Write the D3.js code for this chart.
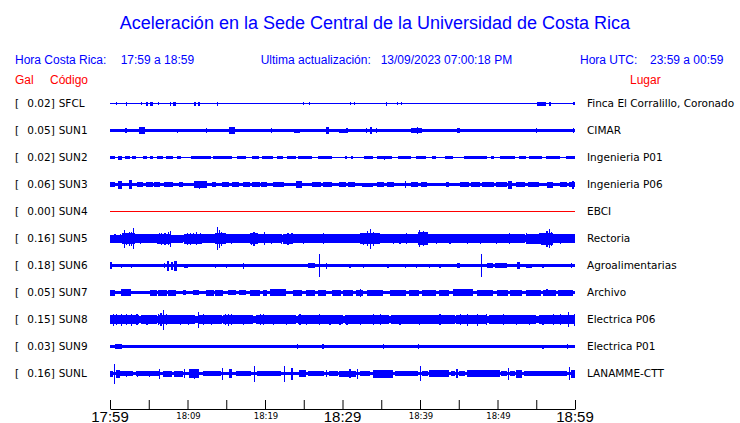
<!DOCTYPE html>
<html><head><meta charset="utf-8">
<script src="https://cdn.jsdelivr.net/npm/d3@7/dist/d3.min.js"></script>
<style>
html,body{margin:0;padding:0;background:#fff;}
svg{display:block;}
</style></head>
<body>
<svg id="chart" width="740" height="423"></svg>
<script>
// ---------------- DATA ----------------
const codes  = ["SFCL","SUN1","SUN2","SUN3","SUN4","SUN5","SUN6","SUN7","SUN8","SUN9","SUNL"];
const peakGal = ["0.02","0.05","0.02","0.06","0.00","0.16","0.18","0.05","0.15","0.03","0.16"];
const places = ["Finca El Corralillo, Coronado","CIMAR","Ingenieria P01","Ingenieria P06","EBCI","Rectoria",
                "Agroalimentarias","Archivo","Electrica P06","Electrica P01","LANAMME-CTT"];
// background (noise) half-amplitude of each trace, relative units
const baseAmp = [0.5,1.5,0.5,1.3,0.5,3.4,1.5,1.5,3.3,1.3,1.6];
// bursts: [start minute, end minute (after 17:59), half-amplitude]; start == end is a single spike
const burstsSFCL = [[0.8,0.8,1.5],[2.1,2.2,2],[4.0,4.0,1.5],[4.7,4.9,2],[5.2,5.5,2],[6.2,6.2,1.5],[7.7,7.9,2],[8.1,8.5,2],
  [10.9,11.1,2],[11.4,11.6,2],[13.8,13.8,2],[24.9,24.9,1.5],[25.7,25.7,1.5],[31.0,31.1,1.5],[31.5,31.5,1.5],[35.6,35.6,2],
  [37.0,37.0,1.5],[37.5,37.5,1.5],[55.1,56.2,2],[56.7,56.7,2],[59.8,59.8,1.5]];
const burstsSUN1 = [[1.9,2.2,2.5],[3.7,4.5,3.7],[8.6,8.6,2],[12.4,12.4,2.5],[15.4,16.1,3.5],[20.8,20.8,2.5],
  [23.8,24.5,2],[27.9,28.3,3.3],[29.6,30.5,2],[30.5,30.5,2.5],[33.0,33.0,2.5],[33.6,33.7,3.7],[34.3,34.3,2.5],
  [38.9,40.3,2.5],[39.6,39.8,3.7],[44.8,45.2,2.5],[55.0,55.0,2.5],[59.7,59.7,2.5]];
const burstsSUN2 = [[0,0.6,1.5],[1.0,1.5,2],[1.9,2.6,1.5],[2.9,3.4,1.5],[4.2,4.8,1.5],[5.1,5.5,1.5],[6.0,6.8,1.5],
  [7.2,8.1,1.5],[8.6,9.2,1.5],[10.5,13.0,1.5],[13.3,15.8,1.5],[16.4,17.6,1.5],[18.3,19.2,1.5],[19.6,21.0,1.5],
  [21.5,22.3,1.5],[22.8,24.0,1.5],[24.3,26.1,1.5],[26.8,28.7,1.5],[30.3,30.6,1.5],[31.1,31.3,1.5],[32.8,33.9,1.5],
  [34.4,36.4,1.5],[35.3,35.4,2],[37.1,38.9,1.5],[39.5,40.8,1.5],[41.6,42.1,1.5],[43.2,44.2,1.5],[45.7,48.6,1.5],
  [49.2,49.6,1.5],[50.3,52.2,1.5],[52.8,53.7,1.5],[54.1,55.8,1.5],[56.3,58.0,1.5],[58.9,60,1.5]];
const burstsSUN3 = [[0,0.6,2.5],[1.0,1.5,4],[2.5,2.9,4.5],[3.5,4.3,2.5],[4.6,5.5,2.5],[5.7,6.4,2.5],[7.0,8.1,2.5],
  [8.9,9.4,2.5],[10.9,12.5,3.2],[11.5,11.6,4],[13.1,13.7,2.5],[14.5,15.4,2.5],[15.7,16.7,2.5],[17.1,18.0,2.5],
  [18.3,19.3,2.5],[19.5,20.2,2.5],[21.0,22.5,2.5],[24.0,24.8,3.5],[26.1,27.2,2.5],[27.5,28.7,2.5],[29.6,30.4,2.5],
  [30.7,31.6,2.5],[32.5,33.9,2],[34.5,35.4,2.5],[35.7,36.7,2.5],[38.1,38.2,3.5],[38.9,39.8,2.5],[40.1,40.9,2.5],
  [43.4,43.8,2.5],[45.1,46.3,2.5],[46.6,47.8,2.5],[48.0,49.5,2.5],[49.8,51.2,2.5],[51.3,51.9,4],[52.4,53.6,2.5],
  [53.9,55.4,2.5],[56.4,57.1,3],[58.0,59.0,2.5],[59.2,60,2.5],[59.6,59.9,4]];
const burstsSUN4 = [];
const burstsSUN5 = [[0,1.5,4],[1.5,3.2,5.5],[3.2,6.0,4.3],[6.1,7.9,5],[7.9,9.4,4],[9.6,11.9,5],[11.9,13.5,4.3],
  [13.6,15.0,5.5],[15.0,18.0,4.3],[18.0,18.9,5.5],[19.0,22.0,4.3],[22.3,23.5,5],[23.5,28.7,4.3],[28.7,32.2,4.2],
  [32.2,34.8,5.5],[34.8,39.7,4.3],[39.7,41.0,6.5],[41.0,48.4,4.5],[48.4,53.5,4.5],[53.7,55.4,5],[55.6,57.1,6],
  [57.1,60,4.3],
  [0.58,0.58,4.8],[1.23,1.23,4.8],[1.78,1.78,9],[2.09,2.09,6],[2.43,2.43,7],[2.74,2.74,7],[2.94,2.94,10.8],
  [3.81,3.81,5],[4.45,4.45,4.8],[6.3,6.3,5.5],[6.6,6.6,6],[7.03,7.03,6],[7.46,7.46,6.5],[7.77,7.77,8],
  [9.9,9.9,6],[10.26,10.26,6],[10.7,10.7,5.5],[11.1,11.1,6.5],[11.55,11.55,5.5],[13.78,13.78,11.7],[14.04,14.04,9],
  [14.35,14.35,7],[14.65,14.65,5.5],[15.6,15.6,5],[18.2,18.2,6],[18.5,18.5,7],[18.9,18.9,5.5],[19.9,19.9,6.5],
  [20.8,20.8,5],[22.1,22.1,5],[22.9,22.9,6],[23.4,23.4,5.5],[24.9,24.9,5],[27.5,27.5,5.5],[30.5,30.5,4.8],
  [31.3,31.3,4.8],[32.6,32.6,6],[33.1,33.1,7.5],[33.5,33.5,10],[33.9,33.9,7],[34.3,34.3,5.5],[36.5,36.5,5],
  [37.35,37.35,5],[38.2,38.2,5.5],[39.9,39.9,8.5],[40.4,40.4,7.5],[40.7,40.7,6.5],[42.1,42.1,5],[43.8,43.8,5],
  [46.0,46.0,5],[47.7,47.7,5],[49.8,49.8,5],[51.5,51.5,5.5],[53.7,53.7,5.5],[55.4,55.4,5.5],[56.3,56.3,8],
  [56.6,56.6,9.5],[56.9,56.9,7],[58.0,58.0,5],[59.7,59.7,4.8]];
const burstsSUN6 = [[0.0,0.2,3.3],[1.4,1.4,2],[2.7,2.7,2],[7.0,7.1,2.5],[7.4,7.6,5],[7.9,8.1,4],[8.3,8.6,5],
  [9.6,10.0,2],[13.5,13.5,2],[15.0,15.0,2],[17.1,17.1,3],[25.5,26.4,2.5],[27.0,27.1,11.3],[27.9,27.9,3],
  [30.9,30.9,2],[32.6,32.6,2],[35.8,35.8,2],[38.0,38.0,2],[39.5,39.5,2],[41.1,41.1,2],[42.5,42.5,2],[44.8,45.1,2.5],
  [47.9,48.0,11.3],[48.7,49.4,2.5],[49.7,51.2,2.5],[52.5,52.9,3.5],[53.7,54.4,2],[55.8,55.8,2],[59.5,59.5,2.5]];
const burstsSUN7 = [[0,0.6,3],[1.4,2.7,3.5],[5.1,6.0,3],[6.2,7.3,3],[7.5,8.5,3],[9.4,9.8,2.5],[10.7,11.5,2.5],
  [12.4,13.4,3],[13.6,14.6,3],[15.2,16.3,2.5],[16.6,17.6,2.5],[18.0,19.3,3],[19.7,20.2,3],[20.6,22.7,3.5],
  [23.6,24.8,3],[25.3,26.5,3],[26.8,27.9,3],[28.7,29.8,3],[30.0,31.3,3],[31.8,32.6,3],[32.2,32.3,4],[33.1,35.2,3],
  [36.1,38.2,3],[38.6,39.9,3],[40.3,42.1,3],[42.5,43.8,3],[44.2,46.8,3.5],[47.3,49.4,3],[49.9,51.4,3],[51.6,53.2,3],
  [53.7,55.6,3],[55.9,57.6,3],[57.8,59.7,3],[56.3,56.4,3.5]];
const burstsSUN8 = [[0,3.8,4.8],[4.0,6.0,4.2],[6.3,11.0,4.2],[11.5,14.5,4.2],[14.6,18.5,4.5],[18.8,24.0,4.2],
  [24.3,30.0,4.2],[30.3,36.0,4.2],[36.3,44.5,4.2],[44.7,48.6,4.7],[48.9,55.0,4.2],[55.3,60,4.5],
  [0.37,0.37,6],[0.8,0.8,5.5],[1.45,1.45,6],[2.1,2.1,5.5],[2.7,2.7,6],[3.4,3.4,5.5],[4.7,4.7,5],[6.2,6.2,5.5],
  [6.5,6.5,6.5],[6.8,6.8,10],[7.25,7.25,5.5],[8.97,8.97,5],[10.0,10.0,5],[11.3,11.3,8],[11.97,11.97,5.5],
  [13.06,13.06,5],[14.8,14.8,5.5],[15.2,15.2,6],[15.6,15.6,5.5],[17.1,17.1,5],[19.3,19.3,5.5],[19.7,19.7,5.5],
  [21.0,21.0,5],[22.7,22.7,5],[24.45,24.45,5.5],[25.3,25.3,5],[27.0,27.0,5.5],[28.3,28.3,5],[29.6,29.6,5],
  [30.5,30.5,5],[32.2,32.2,5],[33.9,33.9,5.5],[34.8,34.8,5.5],[37.35,37.35,5],[39.9,39.9,5],[42.5,42.5,5.5],
  [45.1,45.1,5.5],[46.0,46.0,6],[47.3,47.3,6],[48.5,48.5,5.5],[50.7,50.7,5.5],[52.4,52.4,5],[54.1,54.1,5],
  [55.8,55.8,5],[57.1,57.1,5.5],[58.0,58.0,5.5],[59.1,59.1,7.5],[59.85,59.85,6]];
const burstsSUN9 = [[0.6,1.5,2.5],[24.1,24.1,2.5],[27.4,27.4,2.5],[35.2,35.2,2.5],[39.7,39.7,2.5],
  [55.8,55.8,2],[59.0,59.0,2.5]];
const burstsSUNL = [[0,0.4,3],[0.55,0.65,10],[0.8,1.3,4],[1.3,3.0,2.5],[3.3,6.3,2.5],[2.0,2.1,3],[3.5,3.6,3],
  [5.0,5.1,3],[6.35,6.45,5],[6.8,8.0,3],[8.3,9.4,3],[9.55,9.65,4.5],[10.2,11.5,4.5],[10.8,10.9,5],[12.0,14.3,2.5],
  [14.4,14.5,6],[15.4,15.8,4.5],[16.2,18.2,2.5],[18.6,18.7,8],[19.0,22.0,2.5],[22.4,22.5,8],[23.4,23.5,6],
  [24.4,25.3,3.5],[25.6,27.6,2.5],[27.9,28.0,3.5],[28.3,29.4,2.5],[29.6,31.8,3],[30.9,31.0,4.5],[31.9,32.0,5],
  [32.3,33.6,2.5],[33.9,36.5,4],[36.8,39.7,2.5],[40.0,40.1,7.5],[40.3,41.0,2.5],[41.2,43.8,3.5],[44.0,44.5,2.5],
  [44.7,44.8,4.5],[45.0,45.8,2.5],[46.0,50.3,3.5],[50.5,51.2,2.5],[51.3,51.4,6],[51.6,52.2,2.5],[52.4,53.2,4],
  [53.4,59.0,2.5],[59.2,59.3,6.5],[59.5,60,4]];
const bursts = [burstsSFCL,burstsSUN1,burstsSUN2,burstsSUN3,burstsSUN4,burstsSUN5,burstsSUN6,burstsSUN7,
                burstsSUN8,burstsSUN9,burstsSUNL];
// time axis
const startTime = new Date(2023, 8, 13, 17, 59);
const endTime   = new Date(2023, 8, 13, 18, 59);
const tickMinutes = [0,5,10,15,20,25,30,35,40,45,50,55,60];
const bigTickLabels = ["17:59","18:29","18:59"];
const bigTickMinutes = [0,30,60];
const smallTickLabels = ["18:09","18:19","18:39","18:49"];
const smallTickMinutes = [10,20,40,50];

// ---------------- DRAW ----------------
const svg = d3.select("#chart");
const BLUE = "#0000ff", RED = "#ff0000";
const atMin = m => new Date(startTime.getTime() + m * 60000);

const x = d3.scaleTime().domain([startTime, endTime]).range([110, 575]);
const y = d3.scalePoint().domain(codes).range([103.5, 373.5]);
const amp = d3.scaleLinear().domain([0, 13.5]).range([0, 13.5]);

// title
svg.append("text").attr("x", 375).attr("y", 28.5).attr("text-anchor", "middle")
  .attr("font-family", "Liberation Sans, Arial, sans-serif").attr("font-size", 18)
  .attr("fill", BLUE).text("Aceleración en la Sede Central de la Universidad de Costa Rica");

const hdr = [
  {t:"Hora Costa Rica:", x:15, y:64, c:BLUE},
  {t:"17:59 a 18:59", x:120.7, y:64, c:BLUE},
  {t:"Ultima actualización:", x:260.7, y:64, c:BLUE},
  {t:"13/09/2023 07:00:18 PM", x:380.7, y:64, c:BLUE},
  {t:"Hora UTC:", x:580, y:64, c:BLUE},
  {t:"23:59 a 00:59", x:650, y:64, c:BLUE},
  {t:"Gal", x:15, y:84, c:RED},
  {t:"Código", x:50, y:84, c:RED},
  {t:"Lugar", x:630, y:84, c:RED}
];
svg.append("g").selectAll("text").data(hdr).join("text")
  .attr("x", d => d.x).attr("y", d => d.y).attr("fill", d => d.c)
  .attr("font-family", "Liberation Sans, Arial, sans-serif").attr("font-size", 12)
  .text(d => d.t);

// traces
const rows = svg.append("g").selectAll("g").data(codes).join("g")
  .attr("transform", d => `translate(0,${y(d)})`);

rows.append("rect")
  .attr("x", x(startTime)).attr("width", x(endTime) - x(startTime))
  .attr("y", (d,i) => -amp(baseAmp[i])).attr("height", (d,i) => 2 * amp(baseAmp[i]))
  .attr("fill", (d,i) => peakGal[i] === "0.00" ? RED : BLUE)
  .attr("shape-rendering", "crispEdges");

rows.each(function(code, i) {
  d3.select(this).selectAll("rect.b").data(bursts[i]).join("rect").attr("class", "b")
    .attr("x", d => x(atMin(d[0])))
    .attr("width", d => Math.max(x(atMin(d[1])) - x(atMin(d[0])), 1.2))
    .attr("y", d => -amp(d[2])).attr("height", d => 2 * amp(d[2]))
    .attr("fill", BLUE).attr("shape-rendering", "crispEdges");
});

// row labels
const lab = svg.append("g").attr("font-family", "DejaVu Sans, sans-serif").attr("font-size", 10.5).attr("fill", "#000");
lab.selectAll("text.br").data(codes).join("text").attr("class","br")
  .attr("x", 15).attr("y", d => y(d) + 3.5).text("[");
lab.selectAll("text.val").data(codes).join("text").attr("class","val")
  .attr("x", 27.3).attr("y", d => y(d) + 3.5).text((d,i) => peakGal[i] + "]");
lab.selectAll("text.code").data(codes).join("text").attr("class","code")
  .attr("x", 58.7).attr("y", d => y(d) + 3.5).text(d => d);
lab.selectAll("text.place").data(codes).join("text").attr("class","place")
  .attr("x", 587).attr("y", d => y(d) + 3.5).text((d,i) => places[i]);

// axis
const axis = d3.axisBottom(x).tickValues(tickMinutes.map(atMin))
  .tickSizeInner(-9).tickSizeOuter(0).tickFormat("");
svg.append("g").attr("transform", "translate(0,409)").call(axis)
  .call(g => g.selectAll("path,line").attr("stroke", "#000"));

svg.append("g").selectAll("text").data(bigTickMinutes).join("text")
  .attr("x", d => x(atMin(d))).attr("y", 421.5).attr("text-anchor", "middle")
  .attr("font-family", "Liberation Sans, Arial, sans-serif").attr("font-size", 15).attr("fill", "#000")
  .text((d,i) => bigTickLabels[i]);
svg.append("g").selectAll("text").data(smallTickMinutes).join("text")
  .attr("x", d => x(atMin(d)) + 1).attr("y", 419).attr("text-anchor", "middle")
  .attr("font-family", "DejaVu Sans, sans-serif").attr("font-size", 8.5).attr("fill", "#000")
  .text((d,i) => smallTickLabels[i]);
</script>
</body></html>
